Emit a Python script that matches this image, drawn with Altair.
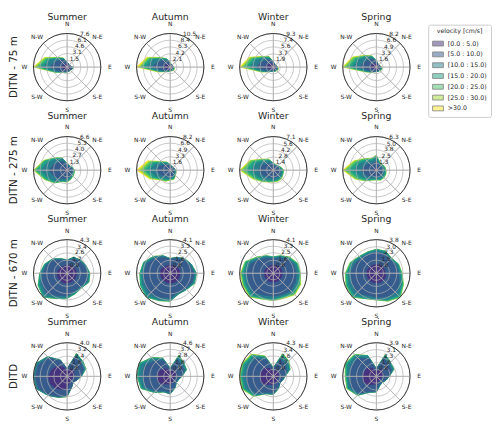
import math
import altair as alt
import pandas as pd

FONT = "DejaVu Sans"
TXT = "#262626"

# ---------------- data ----------------
dir_angles = [0, 22.5, 45, 67.5, 90, 112.5, 135, 157.5, 180, 202.5, 225, 247.5, 270, 292.5, 315, 337.5]
bin_labels = ["[0.0 : 5.0)", "[5.0 : 10.0)", "[10.0 : 15.0)", "[15.0 : 20.0)",
              "[20.0 : 25.0)", "[25.0 : 30.0)", ">30.0"]
bin_colors = ["#46327e", "#365c8d", "#277f8e", "#1fa187", "#4ac16d", "#a0da39", "#fde725"]
seasons = ["Summer", "Autumn", "Winter", "Spring"]
sites = ["DITN - 75 m", "DITN - 275 m", "DITN - 670 m", "DITD"]
compass_labels = ["N", "N-E", "E", "S-E", "S", "S-W", "W", "N-W"]
compass_angles = [0, 45, 90, 135, 180, 225, 270, 315]

# frequency (%) per direction (N, NNE, ... NNW), per velocity bin
ditn75_summer = [[0.6,0.4,0.1],[0.5,0.3],[0.5,0.2],[0.5,0.2],[0.7,0.4,0.1,0.1],[0.7,0.4,0.1],
    [0.6,0.3,0.1],[0.6,0.3,0.1],[0.6,0.4,0.1],[0.6,0.5,0.1],[0.7,0.7,0.2],[0.9,1.3,0.5,0.2,0.1],
    [1.6,2.4,1.6,0.8,0.6,0.4,0.2],[1.0,2.0,1.2,0.6,0.4,0.3,0.1],[0.8,1.4,0.5,0.2,0.1,0.1],[0.7,1.0,0.3,0.1,0.1]]
ditn75_autumn = [[0.7,0.5,0.1],[0.6,0.3],[0.5,0.3],[0.5,0.3],[0.6,0.3,0.1,0.1],[0.6,0.3,0.2,0.1,0.1,0.1],
    [0.6,0.3,0.2,0.2,0.1,0.1,0.1],[0.6,0.3,0.1,0.1,0.1],[0.6,0.4,0.1,0.1],[0.7,0.5,0.1,0.1],
    [0.8,0.7,0.2,0.1,0.1,0.1],[1.1,1.5,0.6,0.3,0.2,0.2,0.1],[2.5,3.1,2.0,1.1,0.7,0.5,0.6],
    [1.6,2.6,1.7,0.9,0.5,0.4,0.3],[1.1,1.7,0.8,0.3,0.2,0.1,0.1],[0.8,1.2,0.5,0.2,0.1]]
ditn75_winter = [[0.7,0.5,0.2,0.1],[0.6,0.3],[0.5,0.3],[0.5,0.3,0.1],[0.6,0.3,0.1,0.1,0.1],
    [0.6,0.4,0.2,0.1,0.1,0.1],[0.6,0.4,0.2,0.1,0.1],[0.6,0.4,0.1,0.1],[0.6,0.4,0.1,0.1],[0.6,0.5,0.1,0.1],
    [0.7,0.7,0.2,0.1,0.1],[1.0,1.4,0.6,0.2,0.2,0.1],[2.5,2.3,1.8,0.9,0.9,0.5,0.4],
    [1.6,2.0,1.6,0.8,0.6,0.4,0.2],[1.2,1.5,0.8,0.3,0.2,0.1,0.1],[1.0,1.2,0.5,0.2,0.2,0.1]]
ditn75_spring = [[0.7,0.6,0.2,0.1],[0.6,0.3],[0.5,0.3],[0.5,0.3,0.1],[0.6,0.4,0.1,0.1,0.1],
    [0.6,0.4,0.2,0.1,0.1],[0.6,0.4,0.1,0.1],[0.6,0.4,0.1],[0.6,0.4,0.1],[0.6,0.5,0.1],
    [0.7,0.7,0.2,0.1,0.1],[0.9,1.2,0.5,0.2,0.1,0.1],[1.7,2.4,1.9,0.8,0.8,0.4,0.2],
    [1.2,2.0,1.5,0.7,0.5,0.3,0.2],[1.0,1.6,0.8,0.3,0.2,0.1,0.1],[0.9,1.2,0.5,0.2,0.1,0.1]]

ditn275_summer = [[0.3,0.7,0.2,0.1],[0.3,0.5,0.2],[0.3,0.5,0.2],[0.3,0.6,0.2,0.1],[0.3,0.7,0.3,0.1,0.1],
    [0.3,0.7,0.3,0.1,0.1],[0.3,0.8,0.3,0.1,0.1],[0.3,1.0,0.4,0.1,0.1],[0.4,1.2,0.5,0.1,0.1],
    [0.4,1.3,0.5,0.1,0.1],[0.5,1.8,0.8,0.3,0.1],[0.5,2.4,1.1,0.5,0.2,0.1],[0.6,3.0,1.6,0.8,0.4,0.1,0.1],
    [0.5,2.4,1.2,0.6,0.2,0.1],[0.4,1.8,0.8,0.3,0.1],[0.4,1.5,0.5,0.2]]
ditn275_autumn = [[0.3,0.8,0.2,0.1],[0.3,0.5,0.2],[0.3,0.5,0.2],[0.3,0.6,0.2],[0.3,0.7,0.2,0.1,0.1],
    [0.3,0.7,0.3,0.1,0.1],[0.3,0.8,0.4,0.2,0.1],[0.4,1.1,0.5,0.2,0.1,0.1],[0.4,1.1,0.5,0.2,0.1,0.1],
    [0.4,1.3,0.6,0.3,0.2,0.1],[0.4,1.5,0.7,0.4,0.2,0.1,0.1],[0.5,2.2,1.2,0.7,0.4,0.3,0.2],
    [0.6,2.8,1.8,1.0,0.8,0.6,0.6],[0.5,2.2,1.3,0.8,0.5,0.4,0.3],[0.4,1.4,0.6,0.3,0.2,0.1],[0.4,1.0,0.4,0.2,0.1]]
ditn275_winter = [[0.3,0.8,0.3,0.1],[0.3,0.6,0.2,0.1],[0.3,0.7,0.2,0.1],[0.3,0.9,0.3,0.1,0.1],
    [0.4,1.1,0.4,0.2,0.1],[0.4,1.1,0.4,0.2,0.1],[0.4,1.2,0.5,0.2,0.1,0.1],[0.4,1.2,0.5,0.2,0.1,0.1],
    [0.4,1.2,0.5,0.2,0.1,0.1],[0.4,1.3,0.5,0.3,0.1,0.1],[0.4,1.6,0.7,0.4,0.2,0.1],[0.5,2.0,1.0,0.6,0.4,0.2],
    [0.6,2.6,1.6,1.0,0.7,0.4,0.2],[0.5,2.1,1.2,0.8,0.5,0.2,0.1],[0.4,1.5,0.7,0.4,0.2,0.1],[0.4,1.2,0.5,0.2,0.1,0.1]]
ditn275_spring = [[0.4,1.4,0.6,0.3,0.1],[0.3,0.8,0.3,0.1,0.1],[0.3,0.7,0.3,0.1,0.1],[0.3,0.8,0.3,0.2,0.1],
    [0.3,0.9,0.4,0.1,0.1],[0.3,0.9,0.4,0.2,0.1],[0.3,1.0,0.4,0.2,0.1],[0.3,1.0,0.4,0.2,0.1],
    [0.3,0.9,0.4,0.1,0.1],[0.3,1.0,0.4,0.2,0.1],[0.4,1.3,0.6,0.3,0.2],[0.5,1.7,0.9,0.6,0.4,0.2],
    [0.6,2.3,1.4,0.9,0.6,0.3,0.2],[0.5,1.8,1.0,0.6,0.4,0.2,0.1],[0.4,1.3,0.7,0.4,0.2,0.1],[0.4,1.0,0.5,0.3,0.1,0.1]]

ditn670_summer = [[1.0,0.6,0.1],[1.1,0.9,0.2],[1.1,1.1,0.2],[1.2,1.2,0.2],[1.2,1.4,0.2,0.1],[1.2,1.5,0.2,0.1],
    [1.2,1.2,0.2],[1.2,1.3,0.2,0.1],[1.3,1.6,0.2,0.1],[1.3,1.8,0.3,0.1],[1.3,2.4,0.4,0.2],[1.3,2.2,0.3,0.2],
    [1.3,1.8,0.3,0.1],[1.2,1.6,0.2,0.1],[1.1,1.3,0.2],[1.0,0.8,0.2]]
ditn670_autumn = [[1.0,0.7,0.1],[1.0,1.0,0.1],[1.1,1.2,0.2],[1.2,1.4,0.2],[1.2,1.7,0.2,0.1],[1.2,1.7,0.2,0.1],
    [1.2,1.4,0.2],[1.2,1.3,0.2],[1.2,1.8,0.3,0.1],[1.2,2.0,0.3,0.1],[1.2,2.3,0.4,0.2],[1.2,2.2,0.3,0.2],
    [1.2,2.0,0.3,0.2],[1.2,1.9,0.3,0.1],[1.1,1.5,0.2,0.1],[1.0,1.1,0.2]]
ditn670_winter = [[1.0,0.8,0.1,0.1],[1.0,1.0,0.2,0.1],[1.1,1.3,0.2,0.1,0.1],[1.1,1.6,0.3,0.1,0.1],
    [1.1,1.7,0.3,0.1,0.1],[1.1,1.8,0.3,0.2,0.1,0.1],[1.1,1.9,0.3,0.2,0.1,0.1],[1.1,1.7,0.2,0.1,0.1,0.1],
    [1.1,1.7,0.3,0.1,0.1],[1.1,1.8,0.3,0.1,0.1],[1.1,2.2,0.4,0.2,0.1,0.1],[1.1,2.1,0.4,0.2,0.1,0.1],
    [1.1,2.1,0.4,0.2,0.1,0.1],[1.1,1.9,0.4,0.2,0.1],[1.0,1.4,0.2,0.1,0.1],[1.0,1.0,0.2,0.1]]
ditn670_spring = [[1.0,1.4,0.2,0.1],[1.0,1.4,0.2,0.1],[1.0,1.2,0.1,0.1],[1.0,1.4,0.2,0.1],[1.0,1.5,0.2,0.1,0.1],
    [1.1,1.7,0.3,0.1,0.1],[1.1,2.0,0.4,0.2,0.1],[1.1,1.8,0.3,0.1,0.1],[1.1,1.6,0.2,0.1],[1.1,1.6,0.3,0.1],
    [1.1,2.0,0.4,0.2,0.1],[1.1,1.9,0.4,0.2,0.1],[1.1,1.8,0.3,0.2,0.1],[1.1,1.6,0.3,0.1,0.1],[1.0,1.4,0.2,0.1],
    [1.0,1.3,0.2,0.1]]

ditd_summer = [[0.6,0.3],[1.0,1.6,0.2,0.1],[1.0,1.3,0.2,0.1],[0.9,1.2,0.2,0.1],[0.8,0.8,0.1],[0.7,0.5],
    [0.6,0.4],[0.8,0.6],[1.4,0.9,0.1],[1.7,0.9,0.1],[2.0,1.1,0.1],[2.2,1.5,0.2],[2.2,1.6,0.2],[2.0,1.7,0.3],
    [1.7,1.4,0.2],[1.2,0.8,0.1]]
ditd_autumn = [[0.6,0.4,0.1],[0.9,1.6,0.4,0.2],[0.9,1.3,0.3,0.1],[0.9,1.2,0.2,0.1],[0.7,0.8,0.1],[0.6,0.5,0.1],
    [0.6,0.5,0.1],[0.8,0.8,0.1],[1.1,1.1,0.2],[1.1,1.0,0.2],[1.5,1.3,0.2,0.1],[1.8,1.9,0.4,0.2],
    [1.8,2.0,0.5,0.2],[1.7,2.1,0.5,0.3],[1.4,1.6,0.4,0.2],[1.1,1.2,0.3,0.1]]
ditd_winter = [[0.6,0.4,0.1],[0.9,1.5,0.4,0.2,0.1],[0.9,1.3,0.4,0.1,0.1],[0.8,1.1,0.3,0.1],[0.7,0.7,0.1],
    [0.6,0.6,0.1],[0.6,0.5,0.1],[0.8,0.8,0.1],[1.1,1.0,0.2],[1.1,1.1,0.2],[1.5,1.6,0.3,0.1,0.1],
    [1.7,1.8,0.4,0.2,0.1,0.1],[1.7,1.8,0.4,0.2,0.1,0.1],[1.6,1.8,0.5,0.2,0.1,0.1],[1.5,1.7,0.4,0.2,0.1,0.1],
    [1.1,1.2,0.3,0.1,0.1]]
ditd_spring = [[0.5,0.3,0.1],[0.9,1.4,0.3,0.1],[0.9,1.1,0.2,0.1],[0.8,1.1,0.2,0.1],[0.7,0.7,0.1],[0.6,0.5,0.1],
    [0.5,0.4,0.1],[0.6,0.4,0.1],[0.9,0.8,0.1],[1.0,0.9,0.1],[1.4,1.4,0.2,0.1],[1.6,1.6,0.3,0.1,0.1],
    [1.6,1.5,0.3,0.1,0.1],[1.5,1.7,0.4,0.2,0.1],[1.4,1.6,0.4,0.1,0.1],[1.0,1.2,0.3,0.1]]

# radial tick labels per panel
ticks_75 = [["1.5","3.1","4.6","6.1","7.6"], ["2.1","4.2","6.3","8.4","10.5"],
            ["1.9","3.7","5.6","7.4","9.3"], ["1.6","3.3","4.9","6.6","8.2"]]
ticks_275 = [["1.3","2.7","4.0","5.3","6.6"], ["1.6","3.3","4.9","6.6","8.2"],
             ["1.4","2.8","4.2","5.6","7.1"], ["1.3","2.5","3.8","5.0","6.3"]]
ticks_670 = [["0.9","1.7","2.6","3.4","4.3"], ["0.8","1.6","2.5","3.3","4.1"],
             ["0.8","1.6","2.5","3.3","4.1"], ["0.8","1.5","2.3","3.0","3.8"]]
ticks_ditd = [["0.8","1.6","2.4","3.2","4.0"], ["0.9","1.8","2.8","3.7","4.6"],
              ["0.9","1.7","2.6","3.4","4.3"], ["0.8","1.6","2.3","3.1","3.9"]]

grid_freqs = [
    [ditn75_summer, ditn75_autumn, ditn75_winter, ditn75_spring],
    [ditn275_summer, ditn275_autumn, ditn275_winter, ditn275_spring],
    [ditn670_summer, ditn670_autumn, ditn670_winter, ditn670_spring],
    [ditd_summer, ditd_autumn, ditd_winter, ditd_spring],
]
grid_ticks = [ticks_75, ticks_275, ticks_670, ticks_ditd]

# ---------------- layout ----------------
R = 34.3        # radius of the polar axes in px
CELL = 104.5    # panel size in px

theta_scale = alt.Scale(domain=[0, 360], range=[0, 2 * math.pi])
fill_scale = alt.Scale(domain=bin_labels, range=bin_colors)
legend = alt.Legend(
    title="velocity [cm/s]", orient="none", legendX=420, legendY=9,
    titleFont=FONT, titleFontSize=6.3, titleFontWeight="normal", titleColor=TXT,
    titleAnchor="middle", titlePadding=3,
    labelFont=FONT, labelFontSize=6.4, labelColor=TXT, labelOffset=4,
    symbolType="M-1,-0.45H1V0.45H-1Z", symbolSize=121, symbolOpacity=0.5,
    symbolStrokeColor="#000000", symbolStrokeWidth=0.8,
    strokeColor="#cccccc", fillColor="white", cornerRadius=2, padding=4, rowPadding=-1.7,
)


def panel(freqs, ticks, season, site, row, col):
    rmax = float(ticks[-1])
    recs = []
    for d, (ang, vals) in enumerate(zip(dir_angles, freqs)):
        vals = list(vals) + [0.0] * (7 - len(vals))
        cum = 0.0
        for b, v in enumerate(vals):
            cum += v
            recs.append({"dir": d, "angle": ang, "bin": b, "label": bin_labels[b], "cum": round(cum, 3)})
    df = pd.DataFrame(recs)
    half = rmax * (CELL / 2) / R
    xs = alt.Scale(domain=[-half, half], nice=False, zero=False)
    ys = alt.Scale(domain=[-half, half], nice=False, zero=False)
    rad = alt.Scale(type="linear", domain=[0, rmax], range=[0, R], nice=False, zero=True)

    base = alt.Chart(df).transform_calculate(
        px="datum.cum * sin(datum.angle * PI / 180)",
        py="datum.cum * cos(datum.angle * PI / 180)",
    )
    layers = []
    for b in range(6, -1, -1):
        layers.append(
            base.transform_filter(alt.datum.bin == b)
            .mark_line(interpolate="linear-closed", stroke=bin_colors[b], strokeWidth=0.6)
            .encode(
                x=alt.X("px:Q", scale=xs, axis=None),
                y=alt.Y("py:Q", scale=ys, axis=None),
                order=alt.Order("dir:Q"),
                fill=alt.Fill("label:N", scale=fill_scale, legend=legend),
            )
        )

    ring_df = pd.DataFrame({"r": [float(t) for t in ticks], "t": ticks, "a": [22.5] * len(ticks)})
    spoke_df = pd.DataFrame({"a": compass_angles, "r": [rmax] * len(compass_angles)})
    comp_df = pd.DataFrame({"a": compass_angles, "t": compass_labels})

    spokes = alt.Chart(spoke_df).transform_calculate(a2="datum.a + 45").mark_arc(
        filled=False, stroke="#b0b0b0", strokeWidth=0.7
    ).encode(
        theta=alt.Theta("a:Q", scale=theta_scale, stack=False),
        theta2="a2:Q",
        radius=alt.Radius("r:Q", scale=rad, stack=False),
    )
    rings = alt.Chart(ring_df).transform_filter(alt.datum.r < rmax).mark_arc(
        theta=0, theta2=2 * math.pi, filled=False, stroke="#b0b0b0", strokeWidth=0.7
    ).encode(radius=alt.Radius("r:Q", scale=rad, stack=False))
    spine = alt.Chart(ring_df).transform_filter(alt.datum.r >= rmax).mark_arc(
        theta=0, theta2=2 * math.pi, filled=False, stroke=TXT, strokeWidth=0.9
    ).encode(radius=alt.Radius("r:Q", scale=rad, stack=False))
    comp = alt.Chart(comp_df).mark_text(
        radius=43.5, fontSize=6, font=FONT, color=TXT, align="center", baseline="middle"
    ).encode(theta=alt.Theta("a:Q", scale=theta_scale, stack=False), text="t:N")
    rlab = alt.Chart(ring_df).mark_text(
        fontSize=6, font=FONT, color=TXT, align="left", baseline="middle", dy=-2
    ).encode(
        theta=alt.Theta("a:Q", scale=theta_scale, stack=False),
        radius=alt.Radius("r:Q", scale=rad, stack=False),
        text="t:N",
    )
    title_r = 50.5 if row == 0 else 55
    title = alt.Chart(pd.DataFrame({"a": [0], "t": [season]})).mark_text(
        radius=title_r, fontSize=9.5, font=FONT, color=TXT, align="center", baseline="middle"
    ).encode(theta=alt.Theta("a:Q", scale=theta_scale, stack=False), text="t:N")
    parts = layers + [spokes, rings, spine, comp, rlab, title]
    if col == 0:
        rowlab = alt.Chart(pd.DataFrame({"a": [270], "t": [site]})).mark_text(
            radius=54.5, angle=270, fontSize=10.5, font=FONT, color=TXT, align="center", baseline="middle"
        ).encode(theta=alt.Theta("a:Q", scale=theta_scale, stack=False), text="t:N")
        parts.append(rowlab)
    return alt.layer(*parts).properties(width=CELL, height=CELL)


panels = []
for i in range(4):
    for j in range(4):
        panels.append(panel(grid_freqs[i][j], grid_ticks[i][j], seasons[j], sites[i], i, j))

chart = (
    alt.concat(*panels, columns=4, spacing=0, bounds="flush")
    .resolve_scale(radius="independent", x="independent", y="independent")
    .properties(padding={"left": 0, "top": 0, "right": 0, "bottom": 2})
    .configure_view(strokeWidth=0)
)

chart.save("out.html", embed_options={"renderer": "svg", "actions": False})
